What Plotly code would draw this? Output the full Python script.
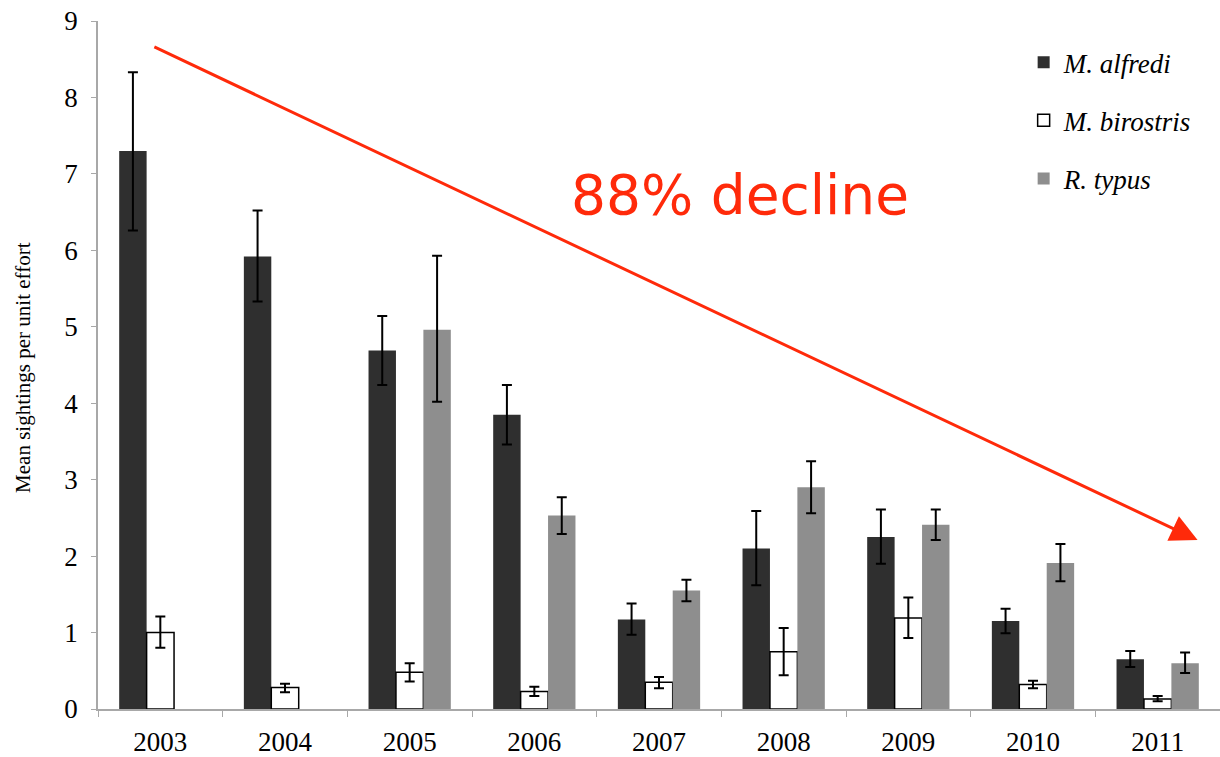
import plotly.graph_objects as go

# Survey years
years = ["2003", "2004", "2005", "2006", "2007", "2008", "2009", "2010", "2011"]

# Mean sightings per unit effort, with lower / upper error-bar bounds
alfredi = [7.30, 5.92, 4.69, 3.85, 1.17, 2.10, 2.25, 1.15, 0.65]
alfredi_lo = [6.26, 5.33, 4.24, 3.46, 0.97, 1.62, 1.90, 0.99, 0.55]
alfredi_hi = [8.33, 6.52, 5.14, 4.24, 1.38, 2.59, 2.61, 1.31, 0.76]

birostris = [1.00, 0.28, 0.48, 0.23, 0.35, 0.75, 1.19, 0.32, 0.13]
birostris_lo = [0.80, 0.22, 0.36, 0.17, 0.27, 0.44, 0.93, 0.27, 0.10]
birostris_hi = [1.21, 0.33, 0.60, 0.29, 0.42, 1.06, 1.46, 0.37, 0.17]

# R. typus was not recorded in 2003-2004
typus = [None, None, 4.96, 2.53, 1.55, 2.90, 2.41, 1.91, 0.60]
typus_lo = [None, None, 4.02, 2.29, 1.41, 2.56, 2.21, 1.67, 0.47]
typus_hi = [None, None, 5.93, 2.77, 1.69, 3.24, 2.61, 2.16, 0.74]

# Trend arrow: start (year index, value) and end point
trend_start = (-0.06, 8.67)
trend_end = (8.32, 2.21)
trend_label = "88% decline"
y_title = "Mean sightings per unit effort"


def err_bounds(vals, lo, hi):
    plus = [None if v is None else h - v for v, h in zip(vals, hi)]
    minus = [None if v is None else v - l for v, l in zip(vals, lo)]
    return dict(type="data", symmetric=False, array=plus, arrayminus=minus,
                color="black", thickness=2, width=5)


fig = go.Figure()
series = [
    ("<i>M. alfredi</i>", alfredi, alfredi_lo, alfredi_hi, "#2f2f2f", "#2f2f2f", 0),
    ("<i>M. birostris</i>", birostris, birostris_lo, birostris_hi, "white", "black", 1.5),
    ("<i>R. typus</i>", typus, typus_lo, typus_hi, "#8e8e8e", "#8e8e8e", 0),
]
for i, (name, vals, lo, hi, fill, line, lw) in enumerate(series):
    fig.add_trace(go.Bar(
        x=years, y=vals, name=name,
        marker=dict(color=fill, line=dict(color=line, width=lw)),
        error_y=err_bounds(vals, lo, hi),
        legendgroup=f"g{i}",
    ))

fig.add_annotation(
    x=trend_end[0], y=trend_end[1], ax=trend_start[0], ay=trend_start[1],
    xref="x", yref="y", axref="x", ayref="y",
    text="", showarrow=True, arrowhead=2, arrowsize=1.8, arrowwidth=3,
    arrowcolor="#ff2a0a",
)
fig.add_annotation(
    x=4.65, y=6.72, xref="x", yref="y", text=trend_label, showarrow=False,
    font=dict(family="DejaVu Sans", size=55, color="#ff2a0a"),
)

serif = "Liberation Serif, Times New Roman, serif"

# Rotated y-axis title placed to the left of the tick labels
fig.add_annotation(
    x=-0.067, y=0.497, xref="paper", yref="paper", text=y_title,
    showarrow=False, textangle=-90, xanchor="center", yanchor="middle",
    font=dict(family=serif, size=21, color="black"),
)

fig.update_layout(
    width=1220, height=757,
    margin=dict(l=98, r=0, t=21, b=48),
    paper_bgcolor="white", plot_bgcolor="white",
    barmode="group", bargap=0.34, bargroupgap=0,
    font=dict(family=serif, color="black"),
    showlegend=True,
    legend=dict(
        x=0.825, y=0.975, xanchor="left", yanchor="top",
        font=dict(family=serif, size=27),
        traceorder="grouped", tracegroupgap=20,
        bgcolor="rgba(0,0,0,0)", itemwidth=30,
    ),
    xaxis=dict(
        type="category", range=[-0.5, 8.5],
        showline=True, linecolor="#a8a8a8", linewidth=1.5,
        ticks="outside", tickson="boundaries", ticklen=6, tickcolor="#a8a8a8",
        tickfont=dict(family=serif, size=27), showgrid=False,
        ticklabelstandoff=8,
    ),
    yaxis=dict(
        range=[0, 9], dtick=1,
        showline=True, linecolor="#a8a8a8", linewidth=1.5,
        ticks="outside", ticklen=5, tickcolor="#a8a8a8",
        tickfont=dict(family=serif, size=27), showgrid=False, zeroline=False,
        ticklabelstandoff=8,
    ),
)

fig.write_html("out.html")
